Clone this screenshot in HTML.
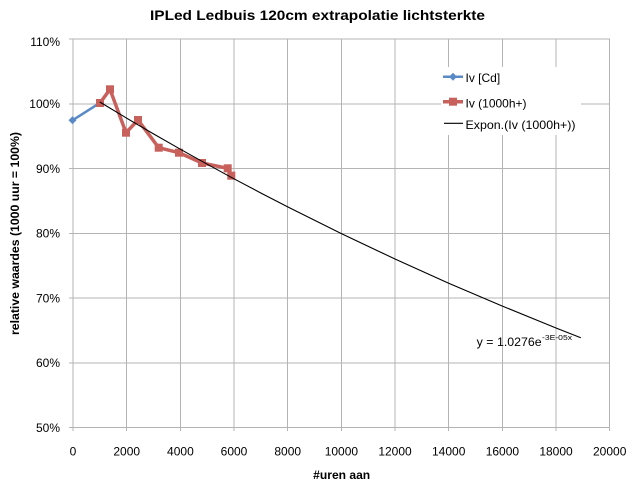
<!DOCTYPE html>
<html><head><meta charset="utf-8"><style>
html,body{margin:0;padding:0;background:#fff;}
svg{display:block;}
text{font-family:"Liberation Sans",sans-serif;fill:#000;}
</style></head><body>
<svg width="633" height="487" viewBox="0 0 633 487" xmlns="http://www.w3.org/2000/svg">
<rect width="633" height="487" fill="#fff"/>
<text x="317.5" y="20" font-size="14" font-weight="bold" text-anchor="middle" textLength="335" lengthAdjust="spacingAndGlyphs">IPLed Ledbuis 120cm extrapolatie lichtsterkte</text>
<g stroke="#b4b4b4" stroke-width="1" fill="none" shape-rendering="crispEdges">
<line x1="69" y1="39" x2="610" y2="39"/>
<line x1="69" y1="103.75" x2="610" y2="103.75"/>
<line x1="69" y1="168.5" x2="610" y2="168.5"/>
<line x1="69" y1="233.25" x2="610" y2="233.25"/>
<line x1="69" y1="298" x2="610" y2="298"/>
<line x1="69" y1="362.75" x2="610" y2="362.75"/>
<line x1="69" y1="427.5" x2="610" y2="427.5"/>
<line x1="73" y1="39" x2="73" y2="431"/>
<line x1="126.7" y1="39" x2="126.7" y2="431"/>
<line x1="180.4" y1="39" x2="180.4" y2="431"/>
<line x1="234" y1="39" x2="234" y2="431"/>
<line x1="287.7" y1="39" x2="287.7" y2="431"/>
<line x1="341.4" y1="39" x2="341.4" y2="431"/>
<line x1="395" y1="39" x2="395" y2="431"/>
<line x1="448.7" y1="39" x2="448.7" y2="431"/>
<line x1="502.4" y1="39" x2="502.4" y2="431"/>
<line x1="556" y1="39" x2="556" y2="431"/>
<line x1="609.7" y1="39" x2="609.7" y2="431"/>
</g>
<g font-size="12" text-anchor="end">
<text x="60" y="46">110%</text>
<text x="60" y="108">100%</text>
<text x="60" y="173">90%</text>
<text x="60" y="237.5">80%</text>
<text x="60" y="302.5">70%</text>
<text x="60" y="367">60%</text>
<text x="60" y="432">50%</text>
</g>
<g font-size="12" text-anchor="middle">
<text x="73" y="455.5">0</text>
<text x="126.7" y="455.5">2000</text>
<text x="180.4" y="455.5">4000</text>
<text x="234" y="455.5">6000</text>
<text x="287.7" y="455.5">8000</text>
<text x="341.4" y="455.5">10000</text>
<text x="395" y="455.5">12000</text>
<text x="448.7" y="455.5">14000</text>
<text x="502.4" y="455.5">16000</text>
<text x="556" y="455.5">18000</text>
<text x="609.7" y="455.5">20000</text>
</g>
<text x="341.7" y="479" font-size="12" font-weight="bold" text-anchor="middle" textLength="57" lengthAdjust="spacingAndGlyphs">#uren aan</text>
<text transform="translate(19,233.5) rotate(-90)" font-size="12" font-weight="bold" text-anchor="middle" textLength="203" lengthAdjust="spacingAndGlyphs">relative waardes (1000 uur = 100%)</text>
<!-- blue series -->
<polyline points="72.5,120.3 100,102.8" fill="none" stroke="#5a8ac6" stroke-width="2.5"/>
<path d="M72.5,116.3 L76.5,120.3 L72.5,124.3 L68.5,120.3Z" fill="#5a8ac6"/>
<path d="M100,98.8 L104,102.8 L100,106.8 L96,102.8Z" fill="#5a8ac6"/>
<!-- red series -->
<polyline points="100,103 110,89.3 126,132.7 138,120 158.7,147.7 179,152.7 202,163 227.7,168.3 231.3,175.7" fill="none" stroke="#c8605c" stroke-width="3.5" stroke-linejoin="round"/>
<g fill="#c8605c">
<rect x="96" y="99" width="8" height="8"/>
<rect x="106" y="85.3" width="8" height="8"/>
<rect x="122" y="128.7" width="8" height="8"/>
<rect x="134" y="116" width="8" height="8"/>
<rect x="154.7" y="143.7" width="8" height="8"/>
<rect x="175" y="148.7" width="8" height="8"/>
<rect x="198" y="159" width="8" height="8"/>
<rect x="223.7" y="164.3" width="8" height="8"/>
<rect x="227.3" y="171.7" width="8" height="8"/>
</g>
<!-- trendline -->
<polyline points="99.8,102.0 126.7,118.2 153.5,133.9 180.3,149.2 207.2,164.2 234,178.8 260.8,193 287.7,206.9 341.4,233.6 395,259 448.7,283.2 502.4,306.1 556,328 580.8,337.7" fill="none" stroke="#000" stroke-width="1.1"/>
<text x="476.7" y="346" font-size="12" textLength="65" lengthAdjust="spacingAndGlyphs">y = 1.0276e</text>
<text x="542" y="340" font-size="7.5" textLength="30" lengthAdjust="spacingAndGlyphs">-3E-05x</text>
<!-- legend -->
<rect x="441" y="67" width="140" height="68" fill="#fff"/>
<line x1="443" y1="76.7" x2="463" y2="76.7" stroke="#5a8ac6" stroke-width="2.5"/>
<path d="M453,72.7 L457,76.7 L453,80.7 L449,76.7Z" fill="#5a8ac6"/>
<text x="465.5" y="82" font-size="12">Iv [Cd]</text>
<line x1="443" y1="101.7" x2="463" y2="101.7" stroke="#c8605c" stroke-width="3.5"/>
<rect x="449" y="97.7" width="8" height="8" fill="#c8605c"/>
<text x="465.5" y="107.5" font-size="12">Iv (1000h+)</text>
<line x1="444" y1="123.3" x2="463" y2="123.3" stroke="#000" stroke-width="1.1"/>
<text x="465.5" y="129" font-size="12" textLength="110" lengthAdjust="spacingAndGlyphs">Expon.(Iv (1000h+))</text>
</svg>
</body></html>
